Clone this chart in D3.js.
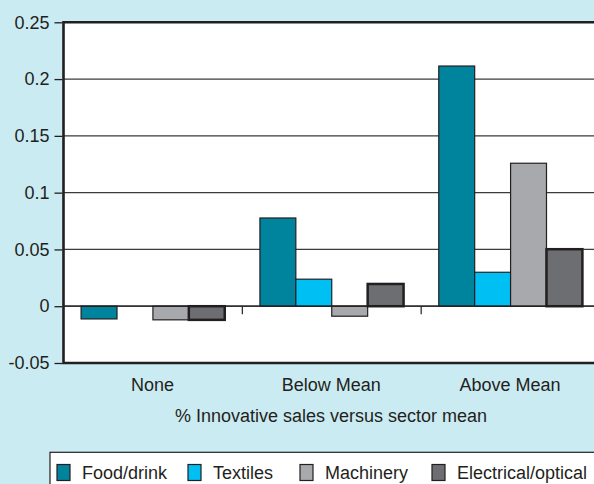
<!DOCTYPE html>
<html>
<head>
<meta charset="utf-8">
<script src="https://cdn.jsdelivr.net/npm/d3@7"></script>
<style>
  body { margin: 0; background: #cbebf2; }
  svg { display: block; font-family: "Liberation Sans", Arial, sans-serif; }
</style>
</head>
<body>
<div id="plothere"></div>
<script>
var categories = ["None", "Below Mean", "Above Mean"];
var series = ["Food/drink", "Textiles", "Machinery", "Electrical/optical"];
var foodDrink = [-0.0112, 0.0777, 0.2115];
var textiles = [0, 0.0238, 0.0299];
var machinery = [-0.012, -0.0088, 0.1259];
var electrical = [-0.012, 0.0196, 0.0502];
var yTicks = [-0.05, 0, 0.05, 0.1, 0.15, 0.2, 0.25];
var colors = ["#00839d", "#00bff3", "#a7a9ac", "#6d6e71"];
var xTitle = "% Innovative sales versus sector mean";

var values = [foodDrink, textiles, machinery, electrical];
var rows = [];
categories.forEach(function(c, i) {
  series.forEach(function(s, j) {
    rows.push({cat: c, ser: s, idx: j, val: values[j][i]});
  });
});

var W = 594, H = 484;
var svg = d3.select("#plothere").append("svg")
  .attr("width", W).attr("height", H);

var pLeft = 63.5, pRight = 600, pTop = 22.3, pBottom = 363;

var x0 = d3.scaleBand().domain(categories).range([pLeft, pRight]);
var x1 = d3.scaleBand().domain(series).range([0, x0.bandwidth()]).paddingOuter(0.49);
var y = d3.scaleLinear().domain([-0.05, 0.25]).range([pBottom, pTop]);

// plot area
svg.append("rect")
  .attr("x", pLeft).attr("y", pTop)
  .attr("width", pRight - pLeft).attr("height", pBottom - pTop)
  .attr("fill", "#fff");

// gridlines
svg.append("g")
  .selectAll("line")
  .data(yTicks.filter(function(d) { return d > -0.05 && d < 0.25; }))
  .enter().append("line")
  .attr("x1", pLeft).attr("x2", pRight)
  .attr("y1", function(d) { return y(d); })
  .attr("y2", function(d) { return y(d); })
  .attr("stroke", "#3b3a3c")
  .attr("stroke-width", 1.3);

// bars
svg.append("g")
  .selectAll("rect")
  .data(rows.filter(function(d) { return d.val !== 0; }))
  .enter().append("rect")
  .attr("x", function(d) { return x0(d.cat) + x1(d.ser); })
  .attr("width", x1.bandwidth())
  .attr("y", function(d) { return y(Math.max(0, d.val)); })
  .attr("height", function(d) { return Math.abs(y(d.val) - y(0)); })
  .attr("fill", function(d) { return colors[d.idx]; })
  .attr("stroke", "#231f20")
  .attr("stroke-width", function(d) { return d.idx == 3 ? 2.5 : 1.2; });

// zero line + category ticks
svg.append("line")
  .attr("x1", pLeft).attr("x2", pRight)
  .attr("y1", y(0)).attr("y2", y(0))
  .attr("stroke", "#231f20").attr("stroke-width", 1.3);
svg.append("g")
  .selectAll("line")
  .data(categories.slice(1))
  .enter().append("line")
  .attr("x1", function(d) { return x0(d); })
  .attr("x2", function(d) { return x0(d); })
  .attr("y1", y(0)).attr("y2", y(0) + 8)
  .attr("stroke", "#231f20").attr("stroke-width", 1.2);

// frame (left, top, bottom)
svg.append("path")
  .attr("d", "M" + pRight + "," + pTop + "H" + pLeft + "V" + pBottom + "H" + pRight)
  .attr("fill", "none")
  .attr("stroke", "#231f20")
  .attr("stroke-width", 2.6);

// y axis
var yAxis = svg.append("g")
  .attr("transform", "translate(" + (pLeft - 1) + ",0)")
  .call(d3.axisLeft(y).tickValues(yTicks).tickSize(8).tickPadding(5)
    .tickFormat(function(d) { return d == 0 ? "0" : String(d); }));
yAxis.select(".domain").remove();
yAxis.selectAll("line").attr("stroke", "#231f20").attr("stroke-width", 1.3);
yAxis.selectAll("text")
  .attr("font-size", 18).attr("fill", "#231f20")
  .style("font-family", "'Liberation Sans', Arial, sans-serif");

// category labels
svg.append("g")
  .selectAll("text")
  .data(categories)
  .enter().append("text")
  .attr("x", function(d) { return x0(d) + x0.bandwidth() / 2 - 0.5; })
  .attr("y", 391)
  .attr("text-anchor", "middle")
  .attr("font-size", 18).attr("fill", "#231f20")
  .text(function(d) { return d; });

svg.append("text")
  .attr("x", 331).attr("y", 422)
  .attr("text-anchor", "middle")
  .attr("font-size", 18).attr("fill", "#231f20")
  .text(xTitle);

// legend
var legendX = [57, 188, 300, 432];
svg.append("rect")
  .attr("x", 50).attr("y", 452.3)
  .attr("width", 560).attr("height", 50)
  .attr("fill", "#fff")
  .attr("stroke", "#231f20").attr("stroke-width", 1.2);
var leg = svg.append("g")
  .selectAll("g")
  .data(series)
  .enter().append("g")
  .attr("transform", function(d, i) { return "translate(" + legendX[i] + ",464.5)"; });
leg.append("rect")
  .attr("width", 13).attr("height", 16)
  .attr("fill", function(d, i) { return colors[i]; })
  .attr("stroke", "#231f20").attr("stroke-width", 1.2);
leg.append("text")
  .attr("x", 25).attr("y", 14.5)
  .attr("font-size", 18).attr("fill", "#231f20")
  .text(function(d) { return d; });
</script>
</body>
</html>
